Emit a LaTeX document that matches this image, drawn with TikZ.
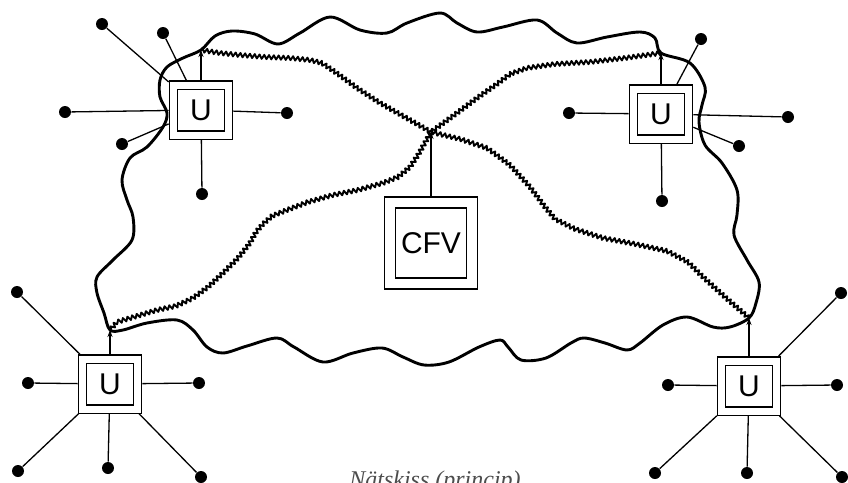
\documentclass[tikz,border=0pt]{standalone}
\usepackage{fontspec}
\setmainfont{Liberation Sans}
\newfontfamily\capfont{Liberation Serif}
\usetikzlibrary{decorations.pathmorphing,arrows.meta}
\tikzset{
  ubox/.style={draw, double, double distance=3.5pt, line width=0.65pt,
    minimum width=27.5pt, minimum height=25pt, inner sep=0pt, outer sep=2.4pt,
    font=\fontsize{15}{15}\selectfont},
  cbox/.style={draw, double, double distance=4.85pt, line width=0.65pt,
    minimum width=41pt, minimum height=40.5pt, inner sep=0pt, outer sep=3.08pt,
    font=\fontsize{15}{15}\selectfont},
  dot/.style={circle, fill=black, inner sep=0pt, minimum size=6pt},
  spoke/.style={line width=0.65pt},
  feed/.style={line width=0.6pt, -{Stealth[length=3.5pt,width=2.5pt]}},
  link/.style={line width=0.95pt, line join=round, decorate,
    decoration={zigzag, segment length=2.4pt, amplitude=1.05pt}},
  cloudline/.style={line width=1.45pt, line join=round},
}
\begin{document}
\begin{tikzpicture}[x=0.5pt,y=-0.5pt]
\useasboundingbox (0,0) rectangle (848,483);
% junctions
\coordinate (jTL) at (201,50);
\coordinate (jTR) at (661,53);
\coordinate (jBL) at (110,330);
\coordinate (jBR) at (749,318);
\coordinate (jC) at (431,132);
% boxes
\node[ubox] (u1) at (201,110) {U};
\node[ubox] (u2) at (661,114) {U};
\node[ubox] (u3) at (110,384) {U};
\node[ubox] (u4) at (749,386) {U};
\node[cbox] (cfv) at (431,243) {CFV};
% cloud boundary
\draw[cloudline] plot[smooth cycle, tension=0.55] coordinates {
 (jTL) (215,36) (232,31) (255,34) (278,44) (300,33) (330,17) (360,30) (387,33)
 (407,23) (440,13) (457,23) (477,32) (503,27) (537,20) (557,33) (577,43)
 (607,37) (640,32) (655,38) (jTR) (690,63) (705,87) (702,105) (699,122)
 (705,145) (722,163) (737,190) (737,215) (734,235) (747,260) (759,282)
 (756,303) (jBR) (730,327) (713,327) (687,317) (663,325) (640,343) (627,350)
 (605,343) (584,338) (571,343) (546,358) (521,360) (508,347) (500,340)
 (479,347) (449,362) (424,365) (403,357) (382,348) (353,353) (323,362)
 (294,347) (277,338) (247,346) (223,353) (207,347) (193,330) (177,320)
 (147,323) (123,330) (jBL) (104,313) (97,293) (97,277) (113,260) (132,240)
 (133,217) (127,200) (122,180) (130,158) (147,147) (163,127) (167,113)
 (160,97) (160,80) (167,67) (183,58)};
% network links
\draw[link] (jTL) -- (220,53) -- (240,55) -- (265,57) -- (290,58) -- (310,60)
 -- (322,63) -- (338,74) -- (357,88) -- (380,103) -- (403,116) -- (jC)
 -- (460,139) -- (487,148) -- (510,165) -- (530,187) -- (545,207) -- (555,219)
 -- (575,229) -- (603,238) -- (635,244) -- (667,251) -- (688,262) -- (703,277)
 -- (725,297) -- (jBR);
\draw[link] (jTR) -- (625,58) -- (590,62) -- (555,64) -- (527,68) -- (510,74)
 -- (497,84) -- (477,98) -- (457,113) -- (jC) -- (418,155) -- (410,167)
 -- (398,177) -- (383,183) -- (358,190) -- (333,195) -- (308,202) -- (287,210)
 -- (272,216) -- (263,224) -- (256,232) -- (250,243) -- (238,258) -- (223,273)
 -- (208,287) -- (193,298) -- (176,306) -- (157,310) -- (137,316) -- (117,322)
 -- (jBL);
% feeds
\draw[feed] (u1.north) -- (jTL);
\draw[feed] (u2.north) -- (jTR);
\draw[feed] (u3.north) -- (jBL);
\draw[feed] (u4.north) -- (jBR);
\draw[feed] (cfv.north) -- (jC);
% terminals U1
\node[dot] (a1) at (102,24) {};
\node[dot] (a2) at (163,33) {};
\node[dot] (a3) at (65,112) {};
\node[dot] (a4) at (122,144) {};
\node[dot] (a5) at (287,113) {};
\node[dot] (a6) at (202,194) {};
\foreach \d in {a1,a2,a3,a4,a5,a6} \draw[spoke] (\d) -- (u1);
% terminals U2
\node[dot] (b1) at (701,39) {};
\node[dot] (b2) at (569,113) {};
\node[dot] (b3) at (788,117) {};
\node[dot] (b4) at (739,146) {};
\node[dot] (b5) at (662,201) {};
\foreach \d in {b1,b2,b3,b4,b5} \draw[spoke] (\d) -- (u2);
% terminals U3
\node[dot] (c1) at (17,292) {};
\node[dot] (c2) at (28,383) {};
\node[dot] (c3) at (199,383) {};
\node[dot] (c4) at (18,471) {};
\node[dot] (c5) at (108,468) {};
\node[dot] (c6) at (201,477) {};
\foreach \d in {c1,c2,c3,c4,c5,c6} \draw[spoke] (\d) -- (u3);
% terminals U4
\node[dot] (e1) at (841,293) {};
\node[dot] (e2) at (668,385) {};
\node[dot] (e3) at (837,385) {};
\node[dot] (e4) at (655,473) {};
\node[dot] (e5) at (747,473) {};
\node[dot] (e6) at (842,477) {};
\foreach \d in {e1,e2,e3,e4,e5,e6} \draw[spoke] (\d) -- (u4);
% caption
\node[anchor=base, text=black!70, font=\capfont\itshape\fontsize{12}{14}\selectfont] (cap) at (435,487) {Nätskiss (princip)};
\end{tikzpicture}
\end{document}
